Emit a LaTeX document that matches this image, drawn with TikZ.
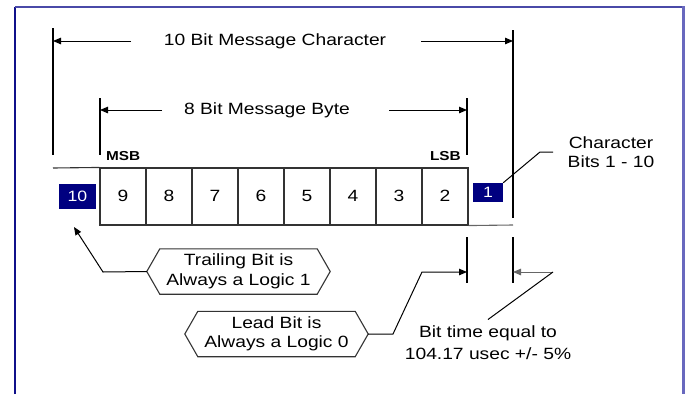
\documentclass[tikz,border=0pt]{standalone}
\usepackage{fontspec}
\setmainfont{Liberation Sans}[FakeStretch=1.18]
\usetikzlibrary{arrows.meta}
\definecolor{navyb}{HTML}{000080}
\definecolor{frameL}{HTML}{10108A}
\definecolor{frameT}{HTML}{4A4AA8}
\definecolor{frameR}{HTML}{6868BE}
\definecolor{cellc}{HTML}{333333}
\definecolor{greyln}{HTML}{666666}
\tikzset{
  lbl/.style={font=\fontsize{16.3}{19.5}\selectfont, inner sep=0pt, align=center},
  dimln/.style={line width=1.1pt, black},
  arr/.style={-{Triangle[length=8pt,width=6.5pt]}, line width=1pt},
  cellbox/.style={draw=cellc, line width=1.1pt, minimum width=46pt, minimum height=57pt, inner sep=0pt, font=\fontsize{16.3}{19}\selectfont},
  bitbox/.style={fill=navyb, text=white, inner sep=0pt, font=\fontsize{15}{15}\selectfont},
  hexnode/.style={minimum width=183pt, minimum height=45pt, inner sep=0pt, align=center, font=\fontsize{16.3}{19.5}\selectfont},
  hexline/.style={draw=cellc, line width=1.1pt},
  sbl/.style={font=\fontsize{13}{13}\selectfont\bfseries, inner sep=0pt}
}
\begin{document}
\begin{tikzpicture}[x=1pt,y=-1pt]
\useasboundingbox (0,0) rectangle (686,394);
% frame
\draw[frameL, line width=1.6pt] (15,394) -- (15,7);
\draw[frameT, line width=1.6pt] (15,7) -- (683,7);
\draw[frameR, line width=3pt] (683,6) -- (683,394);

% extension lines
\draw[dimln] (53,28) -- (53,155);
\draw[dimln] (513,30) -- (513,218);
\draw[dimln] (513,237) -- (513,283);
\draw[dimln] (100,98) -- (100,155);
\draw[dimln] (467,98) -- (467,155);
\draw[dimln] (467,237) -- (467,283);

% 10 bit dimension
\node[lbl] (t10) at (275,41) {10 Bit Message Character};
\coordinate (a10l) at (53,41);
\coordinate (a10r) at (513,41);
\coordinate (s10l) at (131,41);
\coordinate (s10r) at (421,41);
\draw[arr] (s10l) -- (a10l);
\draw[arr] (s10r) -- (a10r);

% 8 bit dimension
\node[lbl] (t8) at (267,110) {8 Bit Message Byte};
\coordinate (a8l) at (100,110);
\coordinate (a8r) at (467,110);
\coordinate (s8l) at (162,110);
\coordinate (s8r) at (389,110);
\draw[arr] (s8l) -- (a8l);
\draw[arr] (s8r) -- (a8r);

% cells
\foreach \d [count=\i from 0] in {9,8,7,6,5,4,3,2}{
  \node[cellbox] (c\d) at (123+46*\i,196.5) {\raisebox{2pt}{\d}};
}
\coordinate (tl) at (53,168);
\coordinate (br) at (513,225);
\draw[cellc, line width=1.1pt] (tl) -- (c9.north west);
\draw[greyln, line width=1.1pt] (c2.south east) -- (br);

\node[sbl, anchor=west] (msb) at (106,156) {MSB};
\node[sbl, anchor=east] (lsb) at (461,156) {LSB};

% start/stop bits
\node[bitbox, minimum width=37pt, minimum height=25pt] (b10) at (77.5,196.5) {10};
\node[bitbox, minimum width=30pt, minimum height=19pt] (b1) at (488,192.5) {1};

% character bits label
\node[lbl, inner xsep=14.5pt, font=\fontsize{16.3}{18.4}\selectfont] (cb) at (611,152) {Character\\Bits 1 - 10};
\coordinate (cbk) at (540,152);
\draw[line width=1pt] (b1.north east) -- (cbk) -- (cb.west);

% trailing bit hexagon
\node[hexnode] (trail) at (238.5,271.5) {Trailing Bit is\\Always a Logic 1};
\draw[hexline] (trail.west) -- ([xshift=13pt]trail.north west) -- ([xshift=-13pt]trail.north east) -- (trail.east) -- ([xshift=-13pt]trail.south east) -- ([xshift=13pt]trail.south west) -- cycle;
\coordinate (trk) at (103,272);
\coordinate (trtip) at (74,227);
\draw[arr] (trail.west) -- (trk) -- (trtip);

% lead bit hexagon
\node[hexnode] (lead) at (276.5,334) {Lead Bit is\\Always a Logic 0};
\draw[hexline] (lead.west) -- ([xshift=13pt]lead.north west) -- ([xshift=-13pt]lead.north east) -- (lead.east) -- ([xshift=-13pt]lead.south east) -- ([xshift=13pt]lead.south west) -- cycle;
\coordinate (lk1) at (393,334);
\coordinate (lk2) at (422,272);
\coordinate (ltip) at (467,272);
\draw[arr] (lead.east) -- (lk1) -- (lk2) -- (ltip);

% bit time
\node[lbl, font=\fontsize{16.3}{21.6}\selectfont, inner ysep=6pt] (bt) at (488,342.5) {Bit time equal to\\104.17 usec +/- 5\%};
\coordinate (btk) at (553,272);
\coordinate (bttip) at (513,272);
\draw[arr, greyln] (btk) -- (bttip);
\draw[line width=1pt] (btk) -- (bt.north);
\end{tikzpicture}
\end{document}
